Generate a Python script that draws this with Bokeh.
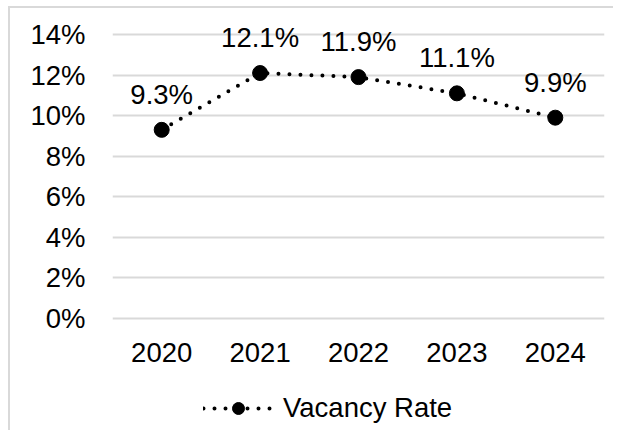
from bokeh.plotting import figure
from bokeh.models import (ColumnDataSource, Range1d, FixedTicker,
                          LabelSet, Legend, LegendItem)
from bokeh.core.properties import value
from bokeh.embed import file_html
from bokeh.resources import INLINE

years = ["2020", "2021", "2022", "2023", "2024"]
vacancy = [9.3, 12.1, 11.9, 11.1, 9.9]
value_labels = ["9.3%", "12.1%", "11.9%", "11.1%", "9.9%"]
y_ticks = [0, 2, 4, 6, 8, 10, 12, 14]
y_tick_labels = ["0%", "2%", "4%", "6%", "8%", "10%", "12%", "14%"]
series_name = "Vacancy Rate"

FONT = "Liberation Sans"
FS = "27.5px"
TXT = "#000000"
GRID = "#d9d9d9"

# layout (pixels): the frame spans the full canvas height so that the data
# labels and the legend are not clipped by it
W, H = 605, 424
PX_PER_UNIT = 20.29
Y_TOP_PAD = 26 / PX_PER_UNIT
Y_BOTTOM_PAD = 114 / PX_PER_UNIT

xpos = [i + 1 for i in range(len(years))]
src = ColumnDataSource(dict(x=xpos, y=vacancy, lab=value_labels))

p = figure(width=W, height=H, x_range=Range1d(0.5, len(years) + 0.5),
           y_range=Range1d(y_ticks[0] - Y_BOTTOM_PAD, y_ticks[-1] + Y_TOP_PAD),
           output_backend="svg", toolbar_location=None,
           min_border_left=102, min_border_right=11, min_border_top=0,
           min_border_bottom=0)
p.styles = {"margin-left": "8px", "margin-top": "6px",
            "border-left": "2px solid #d9d9d9",
            "border-top": "2px solid #d9d9d9"}
p.outline_line_color = None
p.background_fill_color = "white"
p.border_fill_color = "white"

p.xgrid.grid_line_color = None
p.ygrid.grid_line_color = GRID
p.ygrid.grid_line_width = 2

p.xaxis.ticker = FixedTicker(ticks=xpos)
p.xaxis.major_label_overrides = {x: y for x, y in zip(xpos, years)}
p.xaxis.fixed_location = y_ticks[0]
p.yaxis.ticker = FixedTicker(ticks=y_ticks)
p.yaxis.major_label_overrides = {t: l for t, l in zip(y_ticks, y_tick_labels)}
for ax in (p.xaxis, p.yaxis):
    ax.axis_line_color = None
    ax.major_tick_line_color = None
    ax.minor_tick_line_color = None
    ax.major_tick_out = 0
    ax.minor_tick_out = 0
    ax.major_label_text_font = FONT
    ax.major_label_text_font_size = FS
    ax.major_label_text_color = TXT
p.yaxis.major_label_standoff = 27
p.xaxis.major_label_standoff = 24

ln = p.line("x", "y", source=src, line_color="black", line_width=4,
            line_dash="0 11", line_cap="round")
mk = p.scatter("x", "y", source=src, size=15, color="black")

labels = LabelSet(x="x", y="y", text="lab", source=src, y_offset=26,
                  text_align="center", text_baseline="alphabetic",
                  text_font=value(FONT), text_font_size=value(FS),
                  text_color=TXT)
p.add_layout(labels)

legend = Legend(items=[LegendItem(label=series_name, renderers=[ln, mk])],
                location=(91, 8), orientation="horizontal",
                glyph_width=70, glyph_height=30, label_height=30,
                label_standoff=10, padding=0, margin=0,
                border_line_color=None, background_fill_alpha=0,
                label_text_font=FONT, label_text_font_size=FS,
                label_text_color=TXT)
p.add_layout(legend, "center")

open("out.html", "w").write(file_html(p, INLINE))
